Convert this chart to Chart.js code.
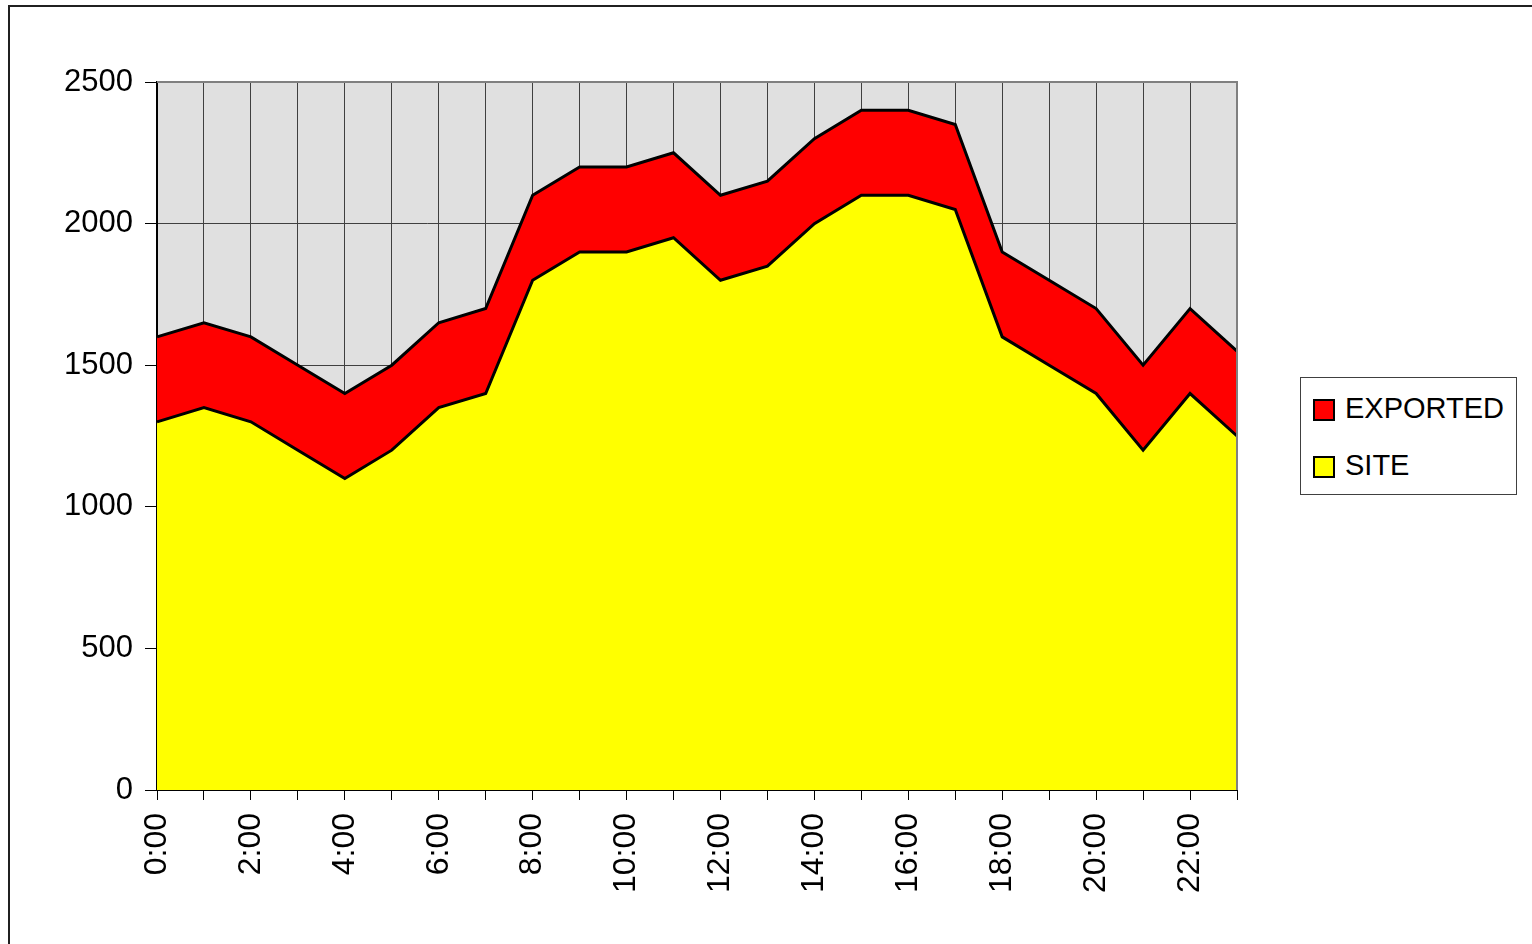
<!DOCTYPE html>
<html>
<head>
<meta charset="utf-8">
<script src="https://cdn.jsdelivr.net/npm/chart.js@4/dist/chart.umd.min.js"></script>
<style>
  html, body { margin: 0; padding: 0; background: #fff; }
  #wrap { position: relative; width: 1532px; height: 944px; }
  canvas { position: absolute; left: 0; top: 0; }
  #legend {
    position: absolute; left: 1300px; top: 377px; width: 215px; height: 116px;
    border: 1px solid #404040; background: #fff;
    font-family: "Liberation Sans", Arial, sans-serif; font-size: 29px; color: #000;
  }
  .item { position: absolute; left: 12px; height: 24px; line-height: 24px; }
  .sw { position: absolute; left: 0; top: 0; width: 18px; height: 18px; border: 2px solid #000; }
  .lbl { position: absolute; left: 32px; top: -3px; white-space: nowrap; }
</style>
</head>
<body>
<div id="wrap">
  <canvas id="c" width="1532" height="944"></canvas>
  <div id="legend">
    <div class="item" style="top:21px;"><div class="sw" style="background:#ff0000"></div><div class="lbl">EXPORTED</div></div>
    <div class="item" style="top:78px;"><div class="sw" style="background:#ffff00"></div><div class="lbl">SITE</div></div>
  </div>
</div>
<script>
const categories = ["0:00","1:00","2:00","3:00","4:00","5:00","6:00","7:00","8:00","9:00","10:00","11:00",
  "12:00","13:00","14:00","15:00","16:00","17:00","18:00","19:00","20:00","21:00","22:00","23:00"];
const siteValues = [1300,1350,1300,1200,1100,1200,1350,1400,1800,1900,1900,1950,
  1800,1850,2000,2100,2100,2050,1600,1500,1400,1200,1400,1250];
const exportedValues = [300,300,300,300,300,300,300,300,300,300,300,300,
  300,300,300,300,300,300,300,300,300,300,300,300];
const yTicks = [0,500,1000,1500,2000,2500];

const FONT = '"Liberation Sans", Arial, sans-serif';

const bgPlugin = {
  id: 'bg',
  beforeDraw(chart) {
    const {ctx, chartArea: a} = chart;
    ctx.save();
    ctx.fillStyle = '#e0e0e0';
    ctx.fillRect(a.left, a.top, a.right - a.left, a.bottom - a.top);
    ctx.restore();
  },
  afterDraw(chart) {
    const {ctx, chartArea: a} = chart;
    ctx.save();
    ctx.strokeStyle = '#808080';
    ctx.lineWidth = 2;
    ctx.beginPath();
    ctx.moveTo(a.left, a.top);
    ctx.lineTo(a.right, a.top);
    ctx.lineTo(a.right, a.bottom);
    ctx.stroke();
    ctx.strokeStyle = '#202020';
    ctx.lineWidth = 2;
    ctx.beginPath();
    ctx.moveTo(9, 944);
    ctx.lineTo(9, 6);
    ctx.lineTo(1532, 6);
    ctx.stroke();
    ctx.restore();
  }
};

new Chart(document.getElementById('c'), {
  type: 'line',
  data: {
    labels: categories,
    datasets: [
      {
        label: 'SITE', data: siteValues, fill: 'origin',
        backgroundColor: '#ffff00', borderColor: '#000', borderWidth: 3,
        pointRadius: 0, tension: 0, borderJoinStyle: 'miter'
      },
      {
        label: 'EXPORTED', data: exportedValues, fill: '-1',
        backgroundColor: '#ff0000', borderColor: '#000', borderWidth: 3,
        pointRadius: 0, tension: 0, borderJoinStyle: 'miter'
      }
    ]
  },
  options: {
    responsive: false,
    animation: false,
    devicePixelRatio: 1,
    layout: { padding: { left: 0, top: 82, right: 295, bottom: 0 } },
    plugins: { legend: { display: false }, tooltip: { enabled: false } },
    scales: {
      x: {
        offset: false,
        stacked: true,
        afterFit(s) { s.height = 154; },
        grid: { color: '#404040', lineWidth: 1, tickLength: 10, tickColor: '#000', drawOnChartArea: true },
        border: { color: '#000', width: 2 },
        ticks: {
          autoSkip: false, maxRotation: 90, minRotation: 90, padding: 13,
          color: '#000', font: { family: FONT, size: 32 },
          callback(v, i) { return i % 2 === 0 ? categories[i] : ''; }
        }
      },
      y: {
        stacked: true,
        min: yTicks[0], max: yTicks[yTicks.length - 1],
        afterFit(s) { s.width = 157; },
        afterBuildTicks(s) { s.ticks = yTicks.map(v => ({ value: v })); },
        grid: { color: '#404040', lineWidth: 1, tickLength: 12, tickColor: '#000' },
        border: { color: '#000', width: 2 },
        ticks: { padding: 12, color: '#000', font: { family: FONT, size: 31 },
          callback(v) { return String(v); } }
      }
    }
  },
  plugins: [bgPlugin]
});
</script>
</body>
</html>
